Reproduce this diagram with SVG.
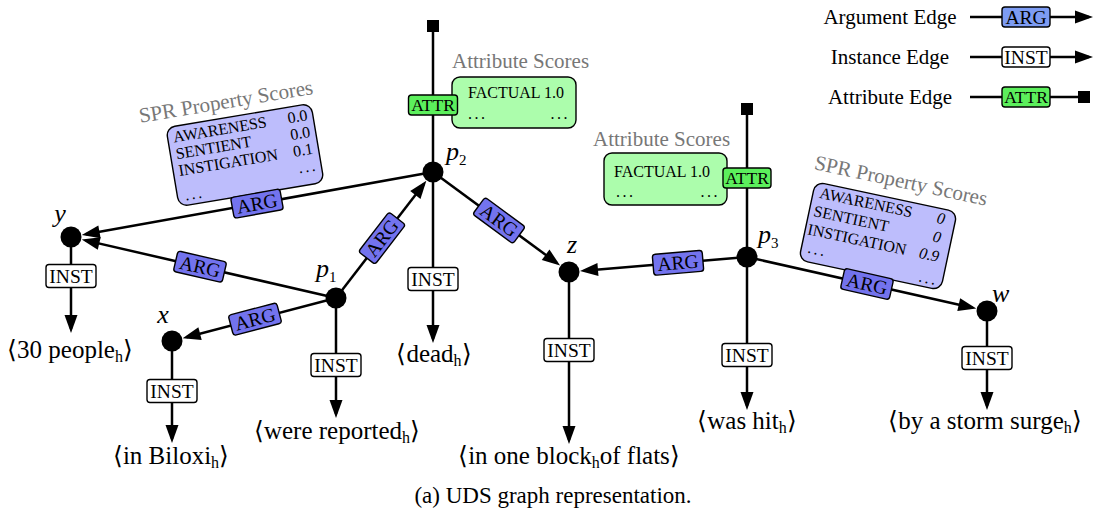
<svg xmlns="http://www.w3.org/2000/svg" width="1094" height="510" viewBox="0 0 1094 510" font-family="'Liberation Serif', 'Times New Roman', Times, serif">
<style>
text{font-family:'Liberation Serif','Times New Roman',Times,serif;fill:#000}
.ea{stroke:#000;stroke-width:2.5;fill:none;marker-end:url(#arr)}
.es{stroke:#000;stroke-width:2.5;fill:none;marker-end:url(#sq)}
.inst rect{fill:#fff;stroke:#000;stroke-width:1.4}
.arg rect{fill:#7373ee;stroke:#000;stroke-width:1.4}
.argl rect{fill:#7d9cf3;stroke:#000;stroke-width:1.4}
.attr rect{fill:#5cef5c;stroke:#000;stroke-width:1.4}
.tag{font-size:19.5px;text-anchor:middle}
.tag2{font-size:17.5px;text-anchor:middle}
.m{font-size:25px;text-anchor:middle}
.sub{font-size:16px}
.nl{font-size:26px;font-style:italic}
.ns{font-size:15px;font-style:normal}
.ttl{font-size:21px;fill:#777}
.sc{font-size:16px}
.dots{font-size:16px;letter-spacing:2.5px}
.spr{fill:#bdbdfc;stroke:#000;stroke-width:1.4}
.att{fill:#acfdac;stroke:#000;stroke-width:1.4}
.leg{font-size:21px;text-anchor:middle}
</style>
<defs>
<marker id="arr" markerUnits="userSpaceOnUse" markerWidth="18" markerHeight="13" refX="14" refY="6.5" orient="auto" overflow="visible">
<path d="M0,0 L18,6.5 L0,13 z" fill="#000"/>
</marker>
<marker id="sq" markerUnits="userSpaceOnUse" markerWidth="12" markerHeight="12" refX="6" refY="6" orient="auto" overflow="visible">
<rect x="0" y="0" width="12" height="12" fill="#000"/>
</marker>
</defs>

<!-- score boxes -->
<g id="spr-left" transform="translate(245,155) rotate(-9.5)">
<text class="ttl" x="-10" y="-49" text-anchor="middle">SPR Property Scores</text>
<rect class="spr" x="-73.5" y="-40" width="147" height="80" rx="9"/>
<text class="sc" x="-68" y="-24">AWARENESS</text><text class="sc" x="68" y="-24" text-anchor="end">0.0</text>
<text class="sc" x="-68" y="-7">SENTIENT</text><text class="sc" x="68" y="-7" text-anchor="end">0.0</text>
<text class="sc" x="-68" y="10">INSTIGATION</text><text class="sc" x="68" y="10" text-anchor="end">0.1</text>
<text class="dots" x="70" y="27" text-anchor="end">...</text>
<text class="dots" x="-66" y="35">...</text>
</g>
<g id="spr-right" transform="translate(878,236) rotate(12)">
<text class="ttl" x="11" y="-52" text-anchor="middle">SPR Property Scores</text>
<rect class="spr" x="-72.5" y="-40" width="145" height="80" rx="9"/>
<text class="sc" x="-66" y="-25">AWARENESS</text><text class="sc" x="62" y="-25" text-anchor="end" font-style="italic">0</text>
<text class="sc" x="-68" y="-6">SENTIENT</text><text class="sc" x="62" y="-6" text-anchor="end" font-style="italic">0</text>
<text class="sc" x="-70" y="13">INSTIGATION</text><text class="sc" x="64" y="13" text-anchor="end" font-style="italic">0.9</text>
<text class="dots" x="-66" y="31">...</text>
<text class="dots" x="68" y="36" text-anchor="end">...</text>
</g>
<g id="attr-top">
<text class="ttl" x="452" y="68">Attribute Scores</text>
<rect class="att" x="452" y="77" width="124" height="51" rx="8"/>
<text class="sc" x="468" y="98" font-size="16.5">FACTUAL 1.0</text>
<text class="dots" x="468" y="119">...</text>
<text class="dots" x="570" y="119" text-anchor="end">...</text>
</g>
<g id="attr-right">
<text class="ttl" x="593" y="146">Attribute Scores</text>
<rect class="att" x="604" y="153" width="123" height="52" rx="8"/>
<text class="sc" x="614" y="177" font-size="16.5">FACTUAL 1.0</text>
<text class="dots" x="616" y="197">...</text>
<text class="dots" x="720" y="197" text-anchor="end">...</text>
</g>

<!-- connectors -->
<g id="connectors">
<line class="ea" x1="433" y1="172" x2="85.7" y2="234.3"/>
<line class="ea" x1="336" y1="298" x2="85.6" y2="240.4"/>
<line class="ea" x1="336" y1="298" x2="186.5" y2="337.2"/>
<line class="ea" x1="336" y1="298" x2="423.9" y2="183.9"/>
<line class="ea" x1="433" y1="172" x2="556.9" y2="263.1"/>
<line class="ea" x1="747" y1="257" x2="584" y2="270.7"/>
<line class="ea" x1="747" y1="257" x2="972.4" y2="307.7"/>
<line class="ea" x1="71" y1="237" x2="71" y2="329"/>
<line class="ea" x1="172" y1="341" x2="172" y2="439"/>
<line class="ea" x1="336" y1="298" x2="336" y2="414"/>
<line class="ea" x1="433" y1="172" x2="433" y2="339"/>
<line class="ea" x1="569" y1="272" x2="569" y2="440"/>
<line class="ea" x1="747" y1="257" x2="747" y2="406"/>
<line class="ea" x1="987" y1="311" x2="987" y2="406"/>
<line class="es" x1="433" y1="172" x2="433" y2="26"/>
<line class="es" x1="747" y1="257" x2="747" y2="109"/>

<g class="arg" transform="translate(257,203.6) rotate(-10.2)"><rect x="-25" y="-10.5" width="50" height="21" rx="3"/><text class="tag" y="6.5">ARG</text></g>
<g class="arg" transform="translate(200,266.7) rotate(13)"><rect x="-25" y="-10.5" width="50" height="21" rx="3"/><text class="tag" y="6.5">ARG</text></g>
<g class="arg" transform="translate(255,319.2) rotate(-14.7)"><rect x="-25" y="-10.5" width="50" height="21" rx="3"/><text class="tag" y="6.5">ARG</text></g>
<g class="arg" transform="translate(382,238.2) rotate(-52.4)"><rect x="-25" y="-10.5" width="50" height="21" rx="3"/><text class="tag" y="6.5">ARG</text></g>
<g class="arg" transform="translate(499,220.5) rotate(36.3)"><rect x="-25" y="-10.5" width="50" height="21" rx="3"/><text class="tag" y="6.5">ARG</text></g>
<g class="arg" transform="translate(678,262.8) rotate(-4.8)"><rect x="-25" y="-10.5" width="50" height="21" rx="3"/><text class="tag" y="6.5">ARG</text></g>
<g class="arg" transform="translate(867,284) rotate(12.7)"><rect x="-25" y="-10.5" width="50" height="21" rx="3"/><text class="tag" y="6.5">ARG</text></g>

<g class="inst" transform="translate(71,276)"><rect x="-25" y="-11.5" width="50" height="23" rx="3"/><text class="tag" y="6.5">INST</text></g>
<g class="inst" transform="translate(172,391)"><rect x="-25" y="-11.5" width="50" height="23" rx="3"/><text class="tag" y="6.5">INST</text></g>
<g class="inst" transform="translate(336,365)"><rect x="-25" y="-11.5" width="50" height="23" rx="3"/><text class="tag" y="6.5">INST</text></g>
<g class="inst" transform="translate(433,279)"><rect x="-25" y="-11.5" width="50" height="23" rx="3"/><text class="tag" y="6.5">INST</text></g>
<g class="inst" transform="translate(569,350)"><rect x="-25" y="-11.5" width="50" height="23" rx="3"/><text class="tag" y="6.5">INST</text></g>
<g class="inst" transform="translate(747,355)"><rect x="-25" y="-11.5" width="50" height="23" rx="3"/><text class="tag" y="6.5">INST</text></g>
<g class="inst" transform="translate(987,358)"><rect x="-25" y="-11.5" width="50" height="23" rx="3"/><text class="tag" y="6.5">INST</text></g>

<g class="attr" transform="translate(433,105)"><rect x="-24.5" y="-10" width="49" height="20" rx="3"/><text class="tag2" y="6">ATTR</text></g>
<g class="attr" transform="translate(747,178)"><rect x="-24" y="-10" width="48" height="20" rx="3"/><text class="tag2" y="6">ATTR</text></g>
</g>

<!-- nodes -->
<g id="node-y"><circle cx="71" cy="237" r="10.5"/><text class="nl" x="60" y="222" text-anchor="middle">y</text></g>
<g id="node-x"><circle cx="172" cy="341" r="10.5"/><text class="nl" x="163" y="323" text-anchor="middle">x</text></g>
<g id="node-p1"><circle cx="336" cy="298" r="10.5"/><text class="nl" x="316" y="277">p<tspan class="ns" dy="5">1</tspan></text></g>
<g id="node-p2"><circle cx="433" cy="172" r="10.5"/><text class="nl" x="446" y="160">p<tspan class="ns" dy="5">2</tspan></text></g>
<g id="node-z"><circle cx="569" cy="272" r="10.5"/><text class="nl" x="572" y="253" text-anchor="middle">z</text></g>
<g id="node-p3"><circle cx="747" cy="257" r="10.5"/><text class="nl" x="758" y="243">p<tspan class="ns" dy="5">3</tspan></text></g>
<g id="node-w"><circle cx="987" cy="311" r="10.5"/><text class="nl" x="992" y="302">w</text></g>

<g id="t-people"><text class="m" x="70" y="358">⟨30 people<tspan class="sub" dy="4">h</tspan><tspan dy="-4">⟩</tspan></text></g>
<g id="t-biloxi"><text class="m" x="171" y="464">⟨in Biloxi<tspan class="sub" dy="4">h</tspan><tspan dy="-4">⟩</tspan></text></g>
<g id="t-reported"><text class="m" x="337" y="439">⟨were reported<tspan class="sub" dy="4">h</tspan><tspan dy="-4">⟩</tspan></text></g>
<g id="t-dead"><text class="m" x="434" y="362">⟨dead<tspan class="sub" dy="4">h</tspan><tspan dy="-4">⟩</tspan></text></g>
<g id="t-block"><text class="m" x="569" y="464">⟨in one block<tspan class="sub" dy="4">h</tspan><tspan dy="-4">of flats⟩</tspan></text></g>
<g id="t-hit"><text class="m" x="747" y="429">⟨was hit<tspan class="sub" dy="4">h</tspan><tspan dy="-4">⟩</tspan></text></g>
<g id="t-surge"><text class="m" x="985" y="429">⟨by a storm surge<tspan class="sub" dy="4">h</tspan><tspan dy="-4">⟩</tspan></text></g>

<!-- legend -->
<g id="legend">
<text class="leg" x="890" y="24">Argument Edge</text>
<line class="ea" x1="970" y1="17" x2="1089" y2="17"/>
<g class="argl" transform="translate(1026,17)"><rect x="-24" y="-10" width="48" height="20" rx="3"/><text class="tag" y="6.5">ARG</text></g>
<text class="leg" x="890" y="64">Instance Edge</text>
<line class="ea" x1="970" y1="57" x2="1089" y2="57"/>
<g class="inst" transform="translate(1026,57)"><rect x="-24" y="-10" width="48" height="20" rx="3"/><text class="tag" y="6.5">INST</text></g>
<text class="leg" x="890" y="104">Attribute Edge</text>
<line class="es" x1="970" y1="97" x2="1084" y2="97"/>
<g class="attr" transform="translate(1026,97)"><rect x="-24" y="-10" width="48" height="20" rx="3"/><text class="tag2" y="6">ATTR</text></g>
</g>

<text id="caption" x="553" y="503" font-size="23" text-anchor="middle">(a) UDS graph representation.</text>
</svg>
